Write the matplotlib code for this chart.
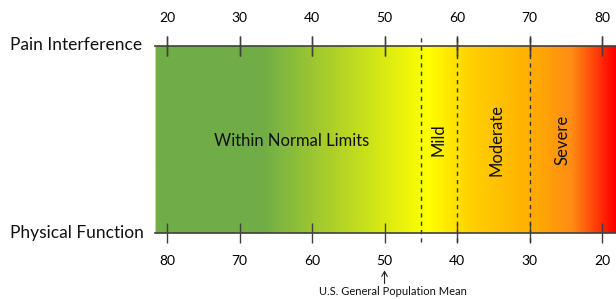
import matplotlib.pyplot as plt
import numpy as np
from matplotlib.colors import LinearSegmentedColormap

plt.rcParams['font.family'] = ['Lato', 'DejaVu Sans']

# T-score scale
pain_ticks = [20, 30, 40, 50, 60, 70, 80]
phys_labels = [80, 70, 60, 50, 40, 30, 20]
cutoffs = [55, 60, 70]
zone_names = ['Mild', 'Moderate', 'Severe']
zone_centers = [57.5, 65.4, 74.6]
population_mean = 50

# gradient colour stops (score, colour)
stop_scores = [18.3, 33, 56, 62, 70, 76, 82]
stop_colors = ['#70AD47', '#70AD47', '#FFFF00', '#FFD000', '#FFB000', '#FF8C14', '#FF0000']

xmin, xmax = 18.34, 81.93

fig = plt.figure(figsize=(6.16, 2.99), dpi=100)
ax = fig.add_axes([155 / 616, 66 / 299, 461 / 616, 187 / 299])

pos = [(s - xmin) / (xmax - xmin) for s in stop_scores]
pos[0], pos[-1] = 0.0, 1.0
cmap = LinearSegmentedColormap.from_list('sev', list(zip(pos, stop_colors)))
grad = np.linspace(0, 1, 600).reshape(1, -1)
ax.imshow(grad, cmap=cmap, aspect='auto', extent=[xmin, xmax, 0, 1], interpolation='bilinear')

ax.set_xlim(xmin, xmax)
ax.set_ylim(0, 1)
ax.set_yticks([])

for s in ['top', 'bottom']:
    ax.spines[s].set_color('#404040')
    ax.spines[s].set_linewidth(1.2)
ax.spines['left'].set_color('#cccccc')
ax.spines['right'].set_visible(False)

# bottom axis: physical function (reversed)
ax.set_xticks(pain_ticks)
ax.set_xticklabels([str(v) for v in phys_labels])
ax.tick_params(axis='x', which='both', direction='inout', length=14, width=1,
               color='#404040', labelsize=10, pad=9, top=True, labeltop=False)

# top axis: pain interference
top = ax.secondary_xaxis('top')
top.set_xticks(pain_ticks)
top.set_xticklabels([str(v) for v in pain_ticks])
top.tick_params(direction='inout', length=14, width=1, color='#404040',
                labelsize=10, pad=9)
top.spines['top'].set_visible(False)

# cutoff lines
for c in cutoffs:
    ax.plot([c, c], [-0.05, 1.05], ls=(0, (3, 3)), color='#333333', lw=1, clip_on=False)

ax.text(37.2, 0.49, 'Within Normal Limits', ha='center', va='center', fontsize=12, color='#111111')
for name, xc in zip(zone_names, zone_centers):
    ax.text(xc, 0.5, name, ha='center', va='center', rotation=90, fontsize=12, color='#111111')

fig.text(10 / 616, 1 - 45 / 299, 'Pain Interference', ha='left', va='center', fontsize=12.5, color='#111111')
fig.text(10 / 616, 1 - 233 / 299, 'Physical Function', ha='left', va='center', fontsize=12.5, color='#111111')

ax.annotate('', xy=(population_mean, -0.2), xytext=(population_mean, -0.27),
            xycoords=('data', 'axes fraction'), textcoords=('data', 'axes fraction'),
            arrowprops=dict(arrowstyle='->,head_length=0.35,head_width=0.2', color='#222222', lw=0.8,
                            shrinkA=0, shrinkB=0),
            annotation_clip=False)
ax.text(51.2, -0.315, 'U.S. General Population Mean', ha='center', va='center',
        fontsize=8, color='#111111', transform=ax.get_xaxis_transform())

fig.savefig('out.png', dpi=100)
